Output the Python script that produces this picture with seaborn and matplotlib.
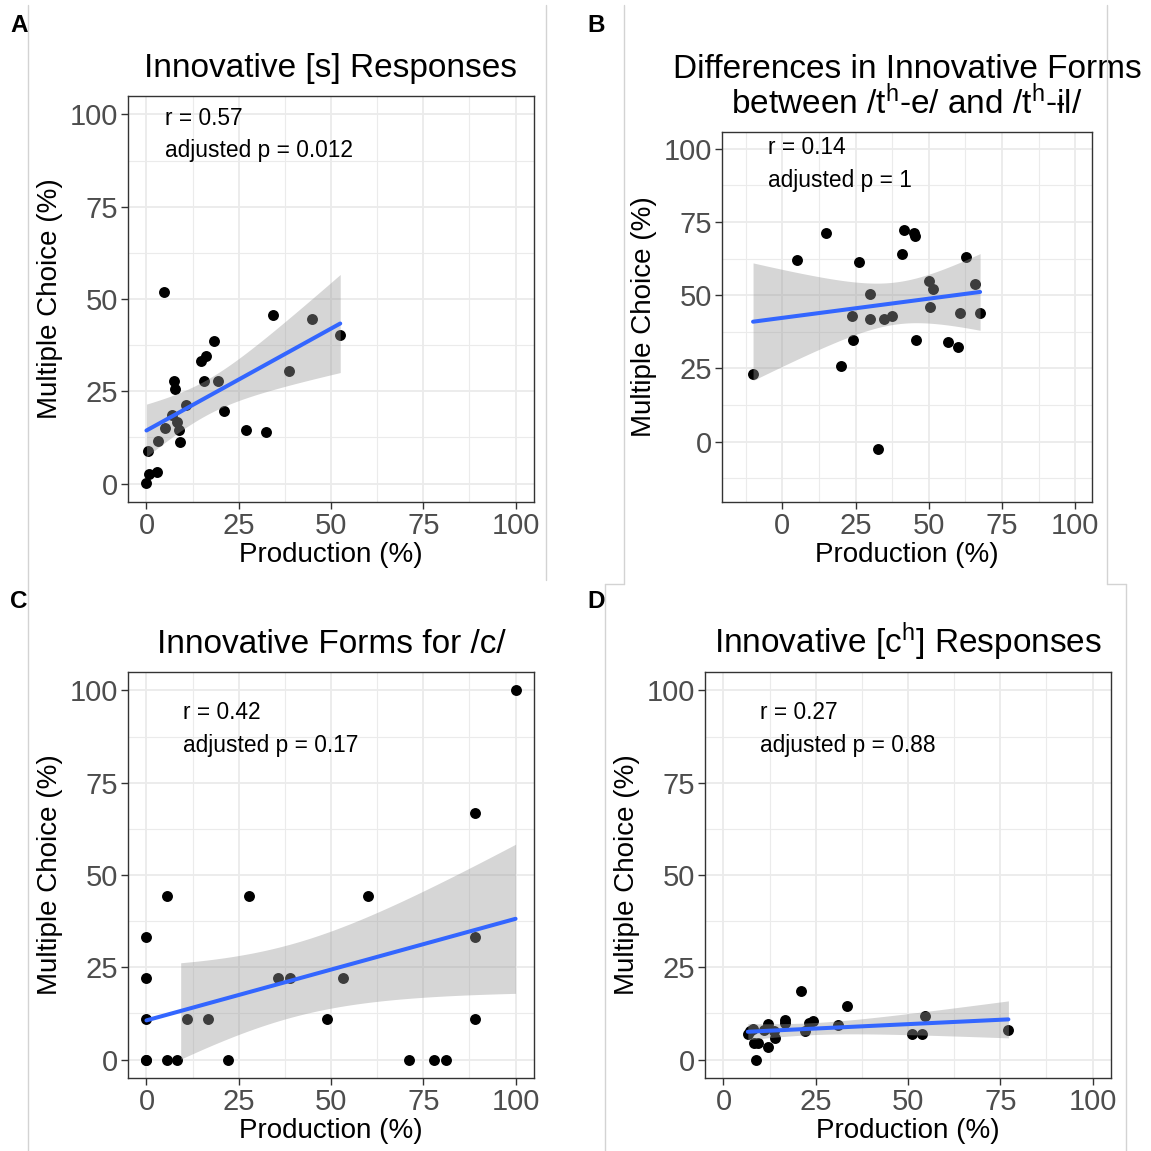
import math
import numpy as np
import pandas as pd
import matplotlib
matplotlib.use("Agg")
import matplotlib.pyplot as plt
import seaborn as sns
from matplotlib.lines import Line2D

# ---- panel A: innovative [s] responses ----
a_prod = [4.7, 34.3, 44.9, 52.5, 18.2, 16.2, 14.8, 7.4, 7.6, 15.5, 19.3, 38.6, 21.1,
          10.6, 6.9, 8.3, 8.7, 5.1, 9.0, 3.0, 0.5, 27.1, 32.3, 0.6, 2.9, 0.0]
a_mc = [52.0, 45.7, 44.5, 40.3, 38.7, 34.6, 33.3, 27.9, 25.6, 27.9, 27.9, 30.4, 19.6,
        21.2, 18.5, 16.8, 14.6, 15.0, 11.2, 11.4, 8.8, 14.4, 13.9, 2.5, 3.2, 0.2]

# ---- panel B: differences between /tʰ-e/ and /tʰ-ɨl/ ----
b_prod = [-10.0, 5.0, 14.9, 20.1, 26.2, 24.2, 23.8, 30.0, 30.0, 34.8, 37.3, 32.7, 41.4,
          45.1, 45.2, 41.0, 45.6, 49.9, 51.5, 50.3, 56.4, 60.1, 60.5, 62.7, 65.8, 67.5]
b_mc = [23.0, 62.1, 71.2, 25.7, 61.2, 34.8, 43.0, 50.3, 42.0, 42.0, 43.0, -2.5, 72.1,
        71.2, 70.3, 63.9, 34.8, 54.7, 52.1, 45.8, 33.9, 32.2, 43.8, 63.0, 53.9, 43.8]

# ---- panel C: innovative forms for /c/ ----
c_prod = [0, 0, 0, 0, 0, 5.6, 5.6, 8.4, 11.1, 16.7, 22.2, 27.8, 35.6, 38.9, 48.9, 53.3,
          60.0, 71.1, 77.8, 81.1, 88.9, 88.9, 88.9, 100]
c_mc = [33.3, 22.2, 11.1, 0, 0, 44.4, 0, 0, 11.1, 11.1, 0, 44.4, 22.2, 22.2, 11.1, 22.2,
        44.4, 0, 0, 0, 33.3, 11.1, 66.7, 100]

# ---- panel D: innovative [cʰ] responses ----
d_prod = [21.1, 33.4, 54.7, 77.2, 51.0, 53.8, 31.0, 24.2, 23.1, 22.0, 16.6, 16.8, 12.2,
          10.9, 13.6, 13.9, 12.2, 7.3, 6.6, 8.2, 9.3, 8.9, 8.0]
d_mc = [18.7, 14.6, 11.7, 8.1, 7.0, 6.8, 9.3, 10.4, 9.9, 7.8, 10.6, 9.9, 9.7,
        8.1, 7.6, 5.9, 3.4, 7.8, 6.9, 4.5, 4.5, 0.0, 8.3]

titles = ["Innovative [s] Responses",
          "Differences in Innovative Forms\nbetween /t$^{\\mathrm{h}}$-e/ and /t$^{\\mathrm{h}}$-ɨl/",
          "Innovative Forms for /c/",
          "Innovative [c$^{\\mathrm{h}}$] Responses"]
stat_r = ["r = 0.57", "r = 0.14", "r = 0.42", "r = 0.27"]
stat_p = ["adjusted p = 0.012", "adjusted p = 1", "adjusted p = 0.17", "adjusted p = 0.88"]
letters = ["A", "B", "C", "D"]
ticks = [0, 25, 50, 75, 100]

sns.set_theme(style="whitegrid")
plt.rcParams['font.family'] = ['Liberation Sans', 'DejaVu Sans']
plt.rcParams['mathtext.fontset'] = 'custom'
plt.rcParams['mathtext.rm'] = 'Liberation Sans'
plt.rcParams['mathtext.it'] = 'Liberation Sans:italic'
plt.rcParams['mathtext.bf'] = 'Liberation Sans:bold'

W = H = 1151
fig = plt.figure(figsize=(W / 100, H / 100), dpi=100)
fig.patch.set_facecolor("white")


def px_axes(l, t, r, b):
    return fig.add_axes([l / W, 1 - b / H, (r - l) / W, (b - t) / H])


def t_quantile(df, p=0.975):
    x = np.linspace(0, 12, 240001)
    logc = math.lgamma((df + 1) / 2) - math.lgamma(df / 2) - 0.5 * math.log(df * math.pi)
    pdf = np.exp(logc - (df + 1) / 2 * np.log1p(x ** 2 / df))
    cdf = 0.5 + np.concatenate([[0], np.cumsum((pdf[1:] + pdf[:-1]) / 2 * np.diff(x))])
    return float(np.interp(p, cdf, x))


def lm_band(x, y, grid):
    x = np.asarray(x, float)
    y = np.asarray(y, float)
    n = len(x)
    slope, icpt = np.polyfit(x, y, 1)
    resid = y - (icpt + slope * x)
    s = np.sqrt(np.sum(resid ** 2) / (n - 2))
    sxx = np.sum((x - x.mean()) ** 2)
    se = s * np.sqrt(1 / n + (grid - x.mean()) ** 2 / sxx)
    fit = icpt + slope * grid
    tq = t_quantile(n - 2)
    return fit - tq * se, fit + tq * se


def panel(ax, x, y, lims, band_lims, title, r_txt, p_txt, txt_x, txt_y, pad, lsp):
    df = pd.DataFrame({"Production": x, "Choice": y})
    sns.scatterplot(data=df, x="Production", y="Choice", ax=ax, color="black",
                    s=62, linewidth=0, zorder=2, legend=False)
    grid = np.linspace(min(x), max(x), 400)
    lo, hi = lm_band(x, y, grid)
    # the ribbon is dropped wherever it leaves the scale limits
    keep = (lo >= band_lims[0]) & (hi <= band_lims[1])
    ax.fill_between(grid, lo, hi, where=keep, color="#999999", alpha=0.4, lw=0, zorder=3)
    sns.regplot(data=df, x="Production", y="Choice", ax=ax, scatter=False, ci=None,
                truncate=True, line_kws=dict(color="#3366FF", lw=2.9, zorder=4))
    ax.set_xlim(*lims)
    ax.set_ylim(*lims)
    ax.set_xticks(ticks)
    ax.set_yticks(ticks)
    minor = [v for v in np.arange(-12.5, 113, 25) if lims[0] < v < lims[1]]
    ax.set_xticks(minor, minor=True)
    ax.set_yticks(minor, minor=True)
    ax.grid(which="major", color="#EBEBEB", lw=1.3)
    ax.grid(which="minor", color="#EBEBEB", lw=0.8)
    ax.set_axisbelow(True)
    for sp in ax.spines.values():
        sp.set_color("#333333")
        sp.set_linewidth(1.0)
        sp.set_zorder(6)
    ax.tick_params(which="major", length=5, width=1.0, color="#333333",
                   labelcolor="#4D4D4D", labelsize=21, pad=2,
                   bottom=True, left=True)
    ax.tick_params(which="minor", length=0)
    ax.set_xlabel("Production (%)", fontsize=20, color="black", labelpad=2)
    ax.set_ylabel("Multiple Choice (%)", fontsize=20, color="black", labelpad=5)
    ax.set_title(title, fontsize=24, color="black", pad=pad, linespacing=lsp)
    ax.text(txt_x, txt_y[0], r_txt, fontsize=16.4, ha="left", va="center", color="black")
    ax.text(txt_x, txt_y[1], p_txt, fontsize=16.4, ha="left", va="center", color="black")


axA = px_axes(128, 96, 534, 502)
axB = px_axes(722, 132, 1092, 502)
axC = px_axes(128, 672, 534, 1078)
axD = px_axes(705, 672, 1111, 1078)

panel(axA, a_prod, a_mc, (-5, 105), (0, 100), titles[0], stat_r[0], stat_p[0],
      5, (99, 90.3), 13.5, 1.2)
panel(axB, b_prod, b_mc, (-20.6, 105.7), (-14.7, 100), titles[1], stat_r[1], stat_p[1],
      -4.8, (100.3, 89), 13, 1.02)
panel(axC, c_prod, c_mc, (-5, 105), (0, 100), titles[2], stat_r[2], stat_p[2],
      10, (94, 85), 13.5, 1.2)
panel(axD, d_prod, d_mc, (-5, 105), (0, 100), titles[3], stat_r[3], stat_p[3],
      10, (94, 85), 13.5, 1.2)

# panel letters
for lab, (lx, ly) in zip(letters, [(10, 26), (587, 26), (10, 602), (587, 602)]):
    fig.text(lx / W, 1 - ly / H, lab, fontsize=17.5, fontweight="bold",
             ha="left", va="center", color="black")

# thin frames around the individual panels
frame = "#D3D3D3"
segments = [
    [(28, 5), (28, 1151)],
    [(546, 5), (546, 580)],
    [(624, 5), (624, 584)],
    [(1107, 5), (1107, 584)],
    [(605, 584), (624, 584)],
    [(1107, 584), (1126, 584)],
    [(605, 584), (605, 1151)],
    [(1126, 584), (1126, 1151)],
]
for (x0, y0), (x1, y1) in segments:
    fig.add_artist(Line2D([x0 / W, x1 / W], [1 - y0 / H, 1 - y1 / H],
                          transform=fig.transFigure, color=frame, lw=1.0))

fig.savefig("out.png", dpi=100, facecolor="white")
